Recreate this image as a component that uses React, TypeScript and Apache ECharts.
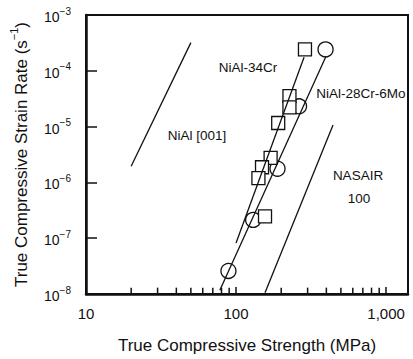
import React, { useEffect, useRef } from "react";
import * as echarts from "echarts";

// ---- data ----
const xMajorLabels = [10, 100, 1000];
const xMinorTicks = [20, 30, 40, 50, 60, 70, 80, 90, 200, 300, 400, 500, 600, 700, 800, 900];
const yDecades = [1e-8, 1e-7, 1e-6, 1e-5, 1e-4, 1e-3];

// NiAl-34Cr (squares): [strength MPa, strain rate 1/s]
const nial34CrStrength = [288, 227, 227, 191, 170, 149, 141, 156];
const nial34CrRate = [2.42e-4, 3.53e-5, 2.21e-5, 1.16e-5, 2.74e-6, 1.87e-6, 1.19e-6, 2.46e-7];

// NiAl-28Cr-6Mo (circles)
const nial28CrStrength = [395, 263, 189, 130, 89];
const nial28CrRate = [2.42e-4, 2.31e-5, 1.76e-6, 2.13e-7, 2.59e-8];

// fitted / reference lines: [start, end]
const fit34CrStrength = [100, 284];
const fit34CrRate = [8.2e-8, 1.75e-4];
const fit28CrStrength = [78, 398];
const fit28CrRate = [1.17e-8, 1.82e-4];
const nial001Strength = [20, 50];
const nial001Rate = [1.95e-6, 3.2e-4];
const nasairStrength = [156, 443];
const nasairRate = [1.05e-8, 1.07e-5];

const FONT = '"Liberation Sans", Arial, Helvetica, sans-serif';
const INK = "#111";

const zip = (a: number[], b: number[]) => a.map((v, i) => [v, b[i]]);

export default function App() {
  const ref = useRef<HTMLDivElement>(null);

  useEffect(() => {
    if (!ref.current) return;
    const chart = echarts.init(ref.current, undefined, { renderer: "svg" });

    const lineSeries = (data: number[][]) => ({
      type: "line",
      data,
      symbol: "none",
      lineStyle: { color: INK, width: 1.3 },
      silent: true,
    });

    chart.setOption({
      animation: false,
      backgroundColor: "#fff",
      textStyle: { fontFamily: FONT, color: INK },
      grid: {
        left: 83,
        right: 5,
        top: 15,
        bottom: 60,
        show: true,
        borderColor: INK,
        borderWidth: 2,
      },
      xAxis: {
        type: "log",
        logBase: 10,
        min: 10,
        max: 1400,
        axisLine: { show: true, onZero: false, lineStyle: { color: INK, width: 2.5 } },
        axisTick: { show: true, inside: true, length: 7, lineStyle: { color: INK, width: 1.5 } },
        splitLine: { show: false },
        axisLabel: {
          showMaxLabel: false,
          fontSize: 15,
          color: INK,
          margin: 12,
          fontFamily: FONT,
          formatter: (v: number) => {
            const r = Math.round(v);
            if (!xMajorLabels.includes(r)) return "";
            return r === 1000 ? "1,000" : String(r);
          },
        },
        name: "True Compressive Strength (MPa)",
        nameLocation: "middle",
        nameGap: 43,
        nameTextStyle: { fontSize: 17, color: INK, fontFamily: FONT },
      },
      yAxis: [
        {
          type: "log",
          logBase: 10,
          min: yDecades[0],
          max: yDecades[yDecades.length - 1],
          axisLine: { show: true, onZero: false, lineStyle: { color: INK, width: 2.5 } },
          axisTick: { show: true, inside: true, length: 11, lineStyle: { color: INK, width: 1.5 } },
          splitLine: { show: false },
          axisLabel: {
            margin: 15,
            lineHeight: 18,
            formatter: (v: number) => {
              const e = Math.round(Math.log10(v));
              return `{b|10}{s|\u2212${-e}}`;
            },
            rich: {
              b: { fontSize: 14, verticalAlign: "bottom", color: INK, fontFamily: FONT },
              s: { fontSize: 10, verticalAlign: "top", color: INK, fontFamily: FONT },
            },
          },
          name: "{t|True Compressive Strain Rate (s}{s|\u22121}{t|)}",
          nameLocation: "middle",
          nameGap: 56,
          nameTextStyle: {
            lineHeight: 22,
            rich: {
              t: { fontSize: 17, verticalAlign: "bottom", color: INK, fontFamily: FONT },
              s: { fontSize: 11, verticalAlign: "top", color: INK, fontFamily: FONT },
            },
          },
        },
        {
          type: "value",
          min: 0,
          max: 1,
          show: false,
        },
      ],
      series: [
        lineSeries(zip(nial001Strength, nial001Rate)),
        lineSeries(zip(nasairStrength, nasairRate)),
        lineSeries(zip(fit28CrStrength, fit28CrRate)),
        lineSeries(zip(fit34CrStrength, fit34CrRate)),
        {
          type: "scatter",
          name: "NiAl-28Cr-6Mo",
          data: zip(nial28CrStrength, nial28CrRate),
          symbol: "circle",
          symbolSize: 15,
          itemStyle: { color: "#fff", borderColor: INK, borderWidth: 1.3, opacity: 1 },
        },
        {
          type: "scatter",
          name: "NiAl-34Cr",
          data: zip(nial34CrStrength, nial34CrRate),
          symbol: "rect",
          symbolSize: 13,
          itemStyle: { color: "#fff", borderColor: INK, borderWidth: 1.3, opacity: 1 },
        },
        {
          type: "scatter",
          name: "minor ticks",
          yAxisIndex: 1,
          data: xMinorTicks.map((v) => [v, 0.012]),
          symbol: "rect",
          symbolSize: [1.5, 6],
          clip: false,
          silent: true,
          z: 5,
          itemStyle: { color: INK, opacity: 1 },
        },
      ],
      graphic: [
        { type: "text", x: 248, y: 67, style: { text: "NiAl-34Cr", fontSize: 13.5, fontFamily: FONT, fill: INK, align: "center", verticalAlign: "middle" } },
        { type: "text", x: 361, y: 93, style: { text: "NiAl-28Cr-6Mo", fontSize: 13.5, fontFamily: FONT, fill: INK, align: "center", verticalAlign: "middle" } },
        { type: "text", x: 197, y: 135, style: { text: "NiAl [001]", fontSize: 13.5, fontFamily: FONT, fill: INK, align: "center", verticalAlign: "middle" } },
        { type: "text", x: 358, y: 175, style: { text: "NASAIR", fontSize: 13.5, fontFamily: FONT, fill: INK, align: "center", verticalAlign: "middle" } },
        { type: "text", x: 359, y: 198, style: { text: "100", fontSize: 13.5, fontFamily: FONT, fill: INK, align: "center", verticalAlign: "middle" } },
      ],
    });

    return () => chart.dispose();
  }, []);

  return (
    <div
      ref={ref}
      style={{ position: "fixed", left: 0, top: 0, width: 413, height: 359, background: "#fff" }}
    />
  );
}
